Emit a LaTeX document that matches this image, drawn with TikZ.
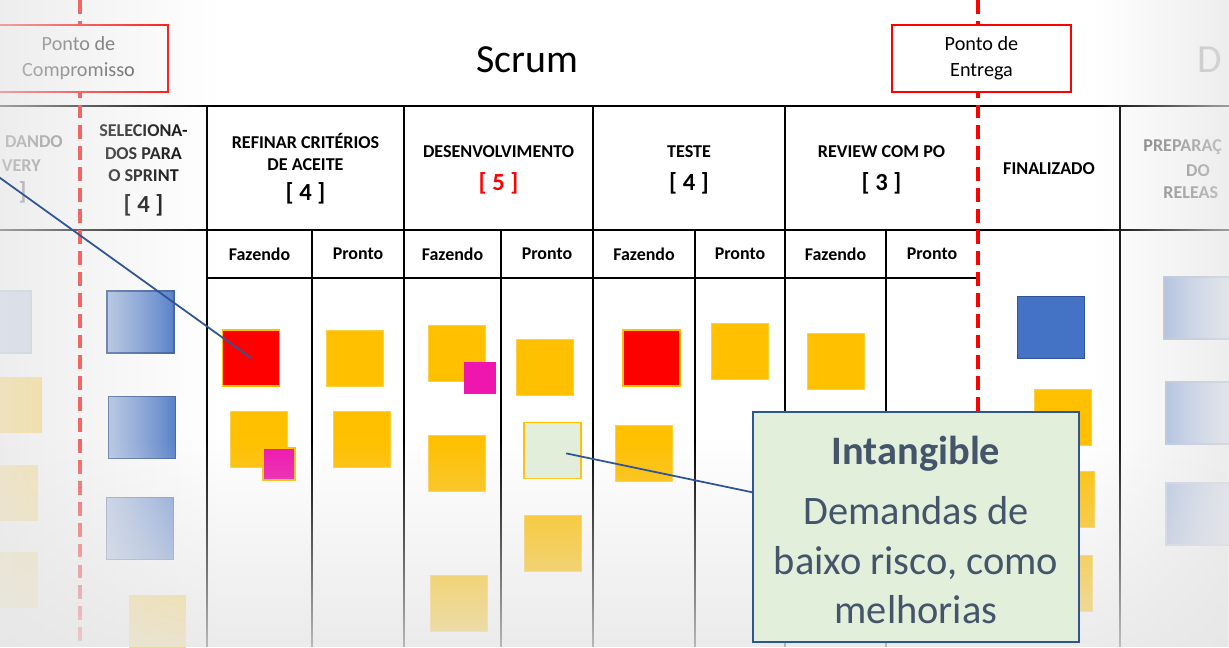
\documentclass[tikz,border=0pt]{standalone}
\usepackage{fontspec}
\setmainfont{Carlito}
\usepackage{xcolor}
\usetikzlibrary{positioning,calc,fadings}

\definecolor{postit}{HTML}{FFC000}
\definecolor{urgent}{HTML}{FF0000}
\definecolor{blocker}{HTML}{EE16AE}
\definecolor{intang}{HTML}{E2EFDA}
\definecolor{done}{HTML}{4472C4}
\definecolor{doneline}{HTML}{2F5597}
\definecolor{slate}{HTML}{44546A}
\definecolor{haze}{HTML}{E6E6E6}

\tikzfading[name=haze left, left color=transparent!30, right color=transparent!100]
\tikzfading[name=haze right, left color=transparent!100, right color=transparent!30]
\tikzfading[name=haze bottom, top color=transparent!100, bottom color=transparent!20]

\tikzset{
  card/.style={rectangle, inner sep=0pt, minimum width=1.14cm, minimum height=1.12cm, fill=postit, draw=postit!75!white, line width=0.4pt},
  hotcard/.style={card, fill=urgent, draw=postit, line width=1pt},
  tagcard/.style={rectangle, inner sep=0pt, minimum size=0.64cm, fill=blocker},
  taskcard/.style={rectangle, inner sep=0pt, minimum width=1.34cm, minimum height=1.24cm, draw=doneline, line width=0.8pt},
  colhead/.style={font=\bfseries\fontsize{10.3}{12.8}\selectfont, align=center, inner sep=0pt},
  colcount/.style={font=\bfseries\fontsize{14}{16}\selectfont, inner sep=0pt},
  subhead/.style={font=\bfseries\fontsize{10.2}{12}\selectfont, inner sep=0pt},
  gridline/.style={line width=1.2pt},
  limitline/.style={urgent, line width=2.3pt, dash pattern=on 7.9pt off 4pt},
  pointbox/.style={draw=urgent, fill=white, line width=0.9pt, align=center, font=\fontsize{11.5}{14.7}\selectfont, inner sep=0pt, minimum width=3.58cm, minimum height=1.34cm},
  callline/.style={doneline, line width=1pt},
  callout/.style={draw=doneline, fill=intang, line width=1.2pt, minimum width=6.52cm, minimum height=4.6cm, inner sep=0pt},
  callouttext/.style={text=slate, align=center, font=\fontsize{23}{28.3}\selectfont, inner sep=0pt}
}

\begin{document}
\begin{tikzpicture}[x=0.02cm, y=-0.02cm]
\useasboundingbox (0,0) rectangle (1229,647);
\clip (0,0) rectangle (1229,647);
\fill[white] (0,0) rectangle (1229,647);

% board grid
\draw[gridline] (0,106) -- (1229,106);
\draw[gridline] (0,230) -- (1229,230);
\draw[gridline] (207,278) -- (978,278);
\foreach \x in {207,404,593,785,1120}
  \draw[gridline] (\x,106) -- (\x,647);
\foreach \x in {312,501,695,886}
  \draw[gridline] (\x,230) -- (\x,647);

% commitment and delivery points
\draw[limitline] (80,0) -- (80,647);
\draw[limitline] (978,0) -- (978,647);
\node[pointbox, text=black!70] (commit) at (78.5,58.5) {Ponto de\\Compromisso};
\node[pointbox] (deliver) at (981.5,58.5) {Ponto de\\Entrega};
\node[font=\fontsize{22.7}{27}\selectfont] (board) at (527,60) {Scrum};
\node[font=\fontsize{22.7}{27}\selectfont, text=black!30] (nextboard) at (1210,60) {D};

% column headers
\node[colhead, text=black!55, anchor=base east] (prevhead) at (63,147) {DANDO};
\node[colhead, text=black!55, anchor=base east] (prevhead2) at (41,171) {VERY};
\node[colcount, text=black!55, anchor=base east] (prevcount) at (27,199) {]};
\node[colhead, anchor=south] (selhead) at (143.5,182) {SELECIONA-\\DOS PARA\\O SPRINT};
\node[colcount, below=7pt of selhead] (selcount) {[ 4 ]};
\node[colhead, anchor=south] (refhead) at (305.5,171) {REFINAR CRITÉRIOS\\DE ACEITE};
\node[colcount, below=6.5pt of refhead] (refcount) {[ 4 ]};
\node[colhead, anchor=south] (devhead) at (498.5,158) {DESENVOLVIMENTO};
\node[colcount, text=urgent, below=8pt of devhead] (devcount) {[ 5 ]};
\node[colhead, anchor=south] (testhead) at (689,158) {TESTE};
\node[colcount, below=8pt of testhead] (testcount) {[ 4 ]};
\node[colhead, anchor=south] (revhead) at (881.5,158) {REVIEW COM PO};
\node[colcount, below=8pt of revhead] (revcount) {[ 3 ]};
\node[colhead, anchor=south] (finhead) at (1049,175) {FINALIZADO};
\node[colhead, text=black!55, anchor=base west] (relhead) at (1143,151) {PREPARAÇ};
\node[colhead, text=black!55, anchor=base] (relhead2) at (1198,176) {DO};
\node[colhead, text=black!55, anchor=base west] (relhead3) at (1163,198) {RELEAS};

\foreach \x/\t [count=\i] in {259.5/Fazendo,358/Pronto,452.5/Fazendo,547/Pronto,644/Fazendo,740/Pronto,835.5/Fazendo,932/Pronto}
  \node[subhead] (sub\i) at (\x,254) {\t};

% cards
\node[taskcard, fill=done!30!white, draw=done!40!white] (lb1) at (-2,322) {};
\node[card, fill=postit!60!white, draw=none] (lo1) at (13.5,405) {};
\node[card, fill=postit!50!white, draw=none] (lo2) at (9.5,493) {};
\node[card, fill=postit!45!white, draw=none] (lo3) at (9.5,579.5) {};

\node[taskcard, left color=done!50!white, right color=done] (sel1) at (140.5,322) {};
\node[taskcard, left color=done!50!white, right color=done] (sel2) at (142,427.5) {};
\node[taskcard, left color=done!40!white, right color=done!70!white, draw=doneline!70] (sel3) at (140,528.5) {};
\node[card, fill=postit!60!white, draw=none] (sel4) at (157.5,623) {};

\node[hotcard] (rf1) at (251,358) {};
\node[card] (rf2) at (258.5,439.5) {};
\node[tagcard, draw=postit, line width=1pt] (rtag) at (279,464) {};
\node[card] (rp1) at (355,358) {};
\node[card] (rp2) at (361.5,439.5) {};

\node[card] (df1) at (456.5,353) {};
\node[tagcard] (dtag) at (480,377.5) {};
\node[card] (df2) at (456.5,463.5) {};
\node[card] (df3) at (459,603) {};
\node[card] (dp1) at (545,367) {};
\node[card, fill=intang, draw=postit, line width=1pt] (dp2) at (552.5,450.5) {};
\node[card] (dp3) at (552.5,543) {};

\node[hotcard] (tf1) at (651.5,358) {};
\node[card] (tf2) at (644,453.5) {};
\node[card] (tp1) at (740,351) {};
\node[card] (vf1) at (835.5,361.5) {};

\node[taskcard, fill=done] (fn1) at (1051,327.5) {};
\node[card] (fn2) at (1063,417) {};
\node[card] (fn3) at (1065.5,499) {};
\node[card] (fn4) at (1063.5,583.5) {};

\node[taskcard, left color=done!55!white, right color=done!20!white, draw=doneline!40] (rb1) at (1197.5,308) {};
\node[taskcard, left color=done!55!white, right color=done!20!white, draw=doneline!40] (rb2) at (1199.5,413) {};
\node[taskcard, left color=done!50!white, right color=done!20!white, draw=doneline!30] (rb3) at (1199.5,514) {};

% faded edges
\fill[haze, path fading=haze left] (0,0) rectangle (215,647);
\fill[haze, path fading=haze right] (1095,0) rectangle (1229,647);
\fill[haze, path fading=haze bottom] (0,440) rectangle (1229,647);

% callouts
\coordinate (offleft) at (-4,175);
\draw[callline] (offleft) -- (rf1.center);
\node[callout] (note) at (916,527) {};
\node[callouttext] (notetext) at ($(note.center)+(0,3)$) {\textbf{Intangible}\\[6pt]Demandas de\\baixo risco, como\\melhorias};
\draw[callline, shorten <=0.28cm] (dp2.center) -- ($(note.north west)!0.35!(note.south west)$);
\end{tikzpicture}
\end{document}
